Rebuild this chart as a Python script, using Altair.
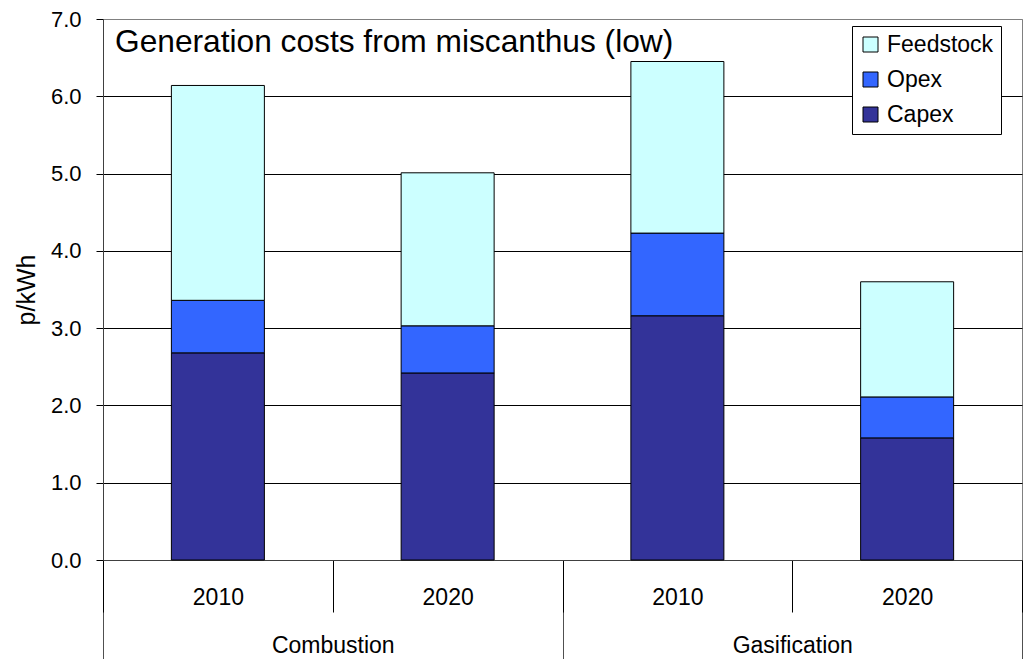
import altair as alt
import pandas as pd

# ---- data ----
groups = ["Combustion", "Combustion", "Gasification", "Gasification"]
years = ["2010", "2020", "2010", "2020"]
capex = [2.68, 2.42, 3.16, 1.58]
opex = [0.68, 0.61, 1.07, 0.53]
feedstock = [2.78, 1.98, 2.22, 1.49]
components = ["Capex", "Opex", "Feedstock"]
legend_order = ["Feedstock", "Opex", "Capex"]
colors = ["#CCFFFF", "#3366FF", "#333399"]
y_ticks = [0, 1, 2, 3, 4, 5, 6, 7]
title_text = "Generation costs from miscanthus (low)"

FONT = "Liberation Sans"

rows = []
for i in range(len(years)):
    for k, (name, vals) in enumerate(zip(components, [capex, opex, feedstock])):
        rows.append({"pos": i, "group": groups[i], "year": years[i],
                     "component": name, "order": k, "value": vals[i]})
df = pd.DataFrame(rows)

positions = list(range(len(years)))
seps_short = [p - 0.5 for p in positions] + [positions[-1] + 0.5]
group_names = list(dict.fromkeys(groups))
group_centers = [sum(p for p, g in zip(positions, groups) if g == name) /
                 groups.count(name) for name in group_names]
seps_long = [positions[0] - 0.5] + [
    max(p for p, g in zip(positions, groups) if g == name) + 0.5 for name in group_names]

year_expr = " : ".join(f"datum.value == {p} ? '{y}'" for p, y in zip(positions, years)) + " : ''"
group_expr = " : ".join(f"datum.value == {c} ? '{n}'" for c, n in zip(group_centers, group_names)) + " : ''"

xscale = alt.Scale(domain=[positions[0] - 0.5, positions[-1] + 0.5], nice=False, zero=False,
                   padding=0)

bars = alt.Chart(df).mark_bar(size=93, stroke="#000000", strokeWidth=1).encode(
    x=alt.X("pos:Q", scale=xscale,
            axis=alt.Axis(orient="bottom", values=positions, labelExpr=year_expr, ticks=False,
                          grid=False, domain=True, domainColor="#404040", labelFontSize=23,
                          labelPadding=26, labelColor="#000000", title=None)),
    y=alt.Y("value:Q", stack="zero", scale=alt.Scale(domain=[0, 7], nice=False),
            axis=alt.Axis(values=y_ticks, format=".1f", grid=True,
                          gridColor={"condition": {"test": "datum.value == 7", "value": "#808080"},
                                     "value": "#000000"},
                          gridWidth=1, domainColor="#404040", tickColor="#000000", tickSize=7,
                          labelFontSize=22, labelPadding=15, labelColor="#000000",
                          title="p/kWh", titleFontSize=25, titleFontWeight="normal",
                          titlePadding=11, titleColor="#000000")),
    color=alt.Color("component:N",
                    scale=alt.Scale(domain=legend_order, range=colors),
                    legend=alt.Legend(title=None, orient="none", legendX=749, legendY=7,
                                      fillColor="#FFFFFF", strokeColor="#000000",
                                      padding=7, symbolType="square", symbolSize=225,
                                      symbolStrokeColor="#000000", symbolStrokeWidth=1,
                                      labelFontSize=23, labelColor="#000000",
                                      labelOffset=5, rowPadding=11)),
    order=alt.Order("order:Q"),
)

sep_short_layer = alt.Chart(pd.DataFrame({"s": seps_short})).mark_rule(opacity=0).encode(
    x=alt.X("s:Q", scale=xscale,
            axis=alt.Axis(orient="bottom", values=seps_short, ticks=True, tickSize=52,
                          tickColor="#000000", labels=False, domain=False, grid=False, title=None))
)
sep_long_layer = alt.Chart(pd.DataFrame({"s": seps_long})).mark_rule(opacity=0).encode(
    x=alt.X("s:Q", scale=xscale,
            axis=alt.Axis(orient="bottom", values=seps_long, ticks=True, tickSize=99,
                          tickColor="#505050", labels=False, domain=False, grid=False, title=None))
)
group_layer = alt.Chart(pd.DataFrame({"g": group_centers})).mark_rule(opacity=0).encode(
    x=alt.X("g:Q", scale=xscale,
            axis=alt.Axis(orient="bottom", values=group_centers, labelExpr=group_expr,
                          ticks=False, labels=True, domain=False, grid=False, labelFontSize=23,
                          labelPadding=74, labelColor="#000000", title=None))
)

title_layer = alt.Chart(pd.DataFrame({"t": [title_text]})).mark_text(
    align="left", baseline="alphabetic", fontSize=31.7, color="#000000", font=FONT
).encode(text="t:N", x=alt.value(12), y=alt.value(33))

chart = alt.layer(sep_long_layer, sep_short_layer, group_layer, bars, title_layer).resolve_axis(
    x="independent"
).properties(
    width=919, height=541,
    autosize=alt.AutoSizeParams(type="none"),
    padding={"left": 95, "top": 11, "right": 1, "bottom": 99},
).configure(font=FONT).configure_view(stroke="#808080", strokeWidth=1)

chart.save("out.html", embed_options={"renderer": "svg", "actions": False})
